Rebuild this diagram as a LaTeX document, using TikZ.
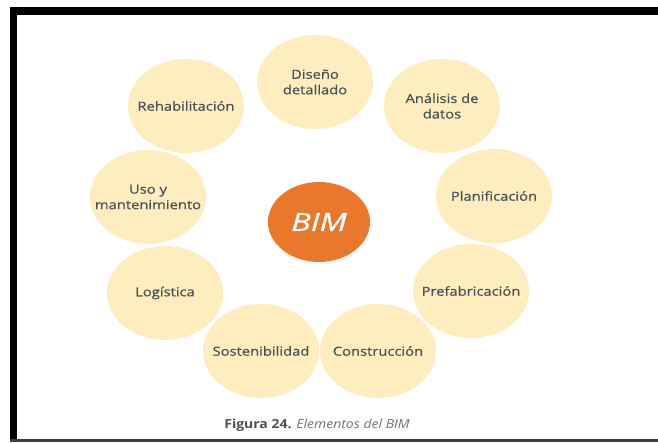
\documentclass[tikz,border=0pt]{standalone}
\usepackage{fontspec}
\setmainfont{Open Sans}[FakeStretch=1.12]
\newfontfamily\labelfont{Open Sans}[FakeBold=0.6, FakeStretch=1.18]
\newfontfamily\hubfont{Open Sans}[FakeBold=0.9, FakeStretch=1.3]
\usetikzlibrary{shapes.geometric}
\begin{document}
\begin{tikzpicture}[x=1pt,y=-1pt,
  petal/.style={ellipse, fill=petalfill, minimum width=116pt, minimum height=94pt,
    inner sep=0pt},
  petallabel/.style={text=labeltext, align=center, inner sep=0pt,
    font=\labelfont\fontsize{12.5}{15.5}\selectfont},
  hub/.style={ellipse, fill=hubfill, minimum width=102pt, minimum height=80pt,
    inner sep=0pt, text=white, font=\hubfont\fontsize{25}{28}\selectfont\itshape}]
\definecolor{petalfill}{RGB}{254,237,190}
\definecolor{hubfill}{RGB}{233,119,44}
\definecolor{labeltext}{RGB}{70,82,90}
\definecolor{captext}{RGB}{80,80,80}
\definecolor{capital}{RGB}{110,115,125}
\useasboundingbox (0,0) rectangle (658,443);
\fill[white] (0,0) rectangle (658,443);
% frame
\fill[black] (10,7) rectangle (658,15);
\fill[black] (10,7) rectangle (17,442);
\fill[black!75] (10,439) rectangle (658,442);
% ring of elements
\node[petal] (dis) at (315,82) {};
\node[petal] (ana) at (442,106) {};
\node[petal] (pla) at (494,196) {};
\node[petal] (pre) at (471,291) {};
\node[petal] (con) at (378,351) {};
\node[petal] (sos) at (261,351) {};
\node[petal] (log) at (165,293) {};
\node[petal] (uso) at (148,197) {};
\node[petal] (reh) at (186,106) {};
\node[petallabel] (disl) at (dis) {Diseño\\detallado};
\node[petallabel] (anal) at (ana) {Análisis de\\datos};
\node[petallabel] (plal) at (pla) {Planificación};
\node[petallabel] (prel) at (pre) {Prefabricación};
\node[petallabel] (conl) at (con) {Construcción};
\node[petallabel] (sosl) at (sos) {Sostenibilidad};
\node[petallabel] (logl) at (log) {Logística};
\node[petallabel] (usol) at (uso) {Uso y\\mantenimiento};
\node[petallabel] (rehl) at (reh) {Rehabilitación};
% centre
\node[hub] (bim) at (319,222) {BIM};
% caption
\node[font=\fontsize{12.5}{14}\selectfont, text=captext, inner sep=0pt] (cap) at (317,425)
  {\textbf{Figura 24.} \textit{\color{capital}Elementos del BIM}};
\end{tikzpicture}
\end{document}
